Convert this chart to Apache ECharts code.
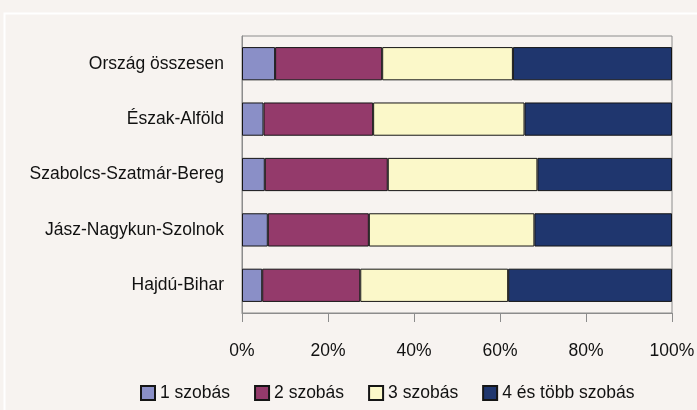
<!DOCTYPE html>
<html>
  <head>
    <meta charset="utf-8" />
    <title>Lakások szobaszám szerint</title>
    <script src="https://cdn.jsdelivr.net/npm/echarts@6/dist/echarts.min.js"></script>
    <style>
      html, body { margin: 0; padding: 0; background: #f7f3f0; }
    </style>
  </head>
  <body>
    <div id="main" style="width: 697px;height: 410px;"></div>
    <script type="text/javascript">
      var regions = ['Ország összesen', 'Észak-Alföld', 'Szabolcs-Szatmár-Bereg', 'Jász-Nagykun-Szolnok', 'Hajdú-Bihar']
      var seriesNames = ['1 szobás', '2 szobás', '3 szobás', '4 és több szobás']
      var room1 = [7.7, 5.0, 5.3, 6.0, 4.7]
      var room2 = [24.9, 25.5, 28.6, 23.5, 22.8]
      var room3 = [30.4, 35.2, 34.8, 38.5, 34.4]
      var room4 = [37.0, 34.3, 31.3, 32.0, 38.1]
      var tickLabels = ['0%', '20%', '40%', '60%', '80%', '100%']
      var colors = ['#8a8fc7', '#943a6b', '#fbf8c9', '#1f366e']

      var myChart = echarts.init(document.getElementById('main'))
      var values = [room1, room2, room3, room4]

      var series = seriesNames.map(function (name, i) {
        return {
          name: name,
          type: 'bar',
          stack: 'total',
          barCategoryGap: '40%',
          data: values[i],
          itemStyle: {
            color: colors[i],
            borderColor: '#151515',
            borderWidth: 1
          }
        }
      })

      var font = '"Liberation Sans", Arial, sans-serif'

      var option = {
        backgroundColor: '#f7f3f0',
        animation: false,
        textStyle: { fontFamily: font },
        graphic: [{
          type: 'rect',
          shape: { x: 4.5, y: 13.5, width: 800, height: 500 },
          style: { fill: 'none', stroke: '#ffffff', lineWidth: 2 },
          silent: true
        }],
        grid: {
          left: 242,
          right: 25,
          top: 36,
          bottom: 97,
          outerBoundsMode: 'none',
          containLabel: false,
          show: true,
          borderColor: '#8c8c8c',
          borderWidth: 1,
          backgroundColor: 'transparent'
        },
        legend: {
          data: seriesNames,
          left: 135,
          top: 379,
          itemWidth: 14,
          itemHeight: 14,
          itemGap: 24,
          icon: 'rect',
          textStyle: { fontFamily: font, fontSize: 17.5, color: '#111' }
        },
        xAxis: {
          type: 'value',
          min: 0,
          max: 100,
          interval: 20,
          axisLine: { show: true, lineStyle: { color: '#8c8c8c' } },
          axisTick: { show: true, length: 9, lineStyle: { color: '#8c8c8c' } },
          splitLine: { show: false },
          axisLabel: {
            margin: 29,
            fontSize: 17.5,
            fontFamily: font,
            color: '#111',
            formatter: function (v) { return tickLabels[v / 20] }
          }
        },
        yAxis: {
          type: 'category',
          inverse: true,
          data: regions,
          axisLine: { show: true, lineStyle: { color: '#8c8c8c' } },
          axisTick: { show: false },
          axisLabel: { margin: 18, fontSize: 17.5, fontFamily: font, color: '#111' }
        },
        series: series
      }

      myChart.setOption(option)
    </script>
  </body>
</html>
